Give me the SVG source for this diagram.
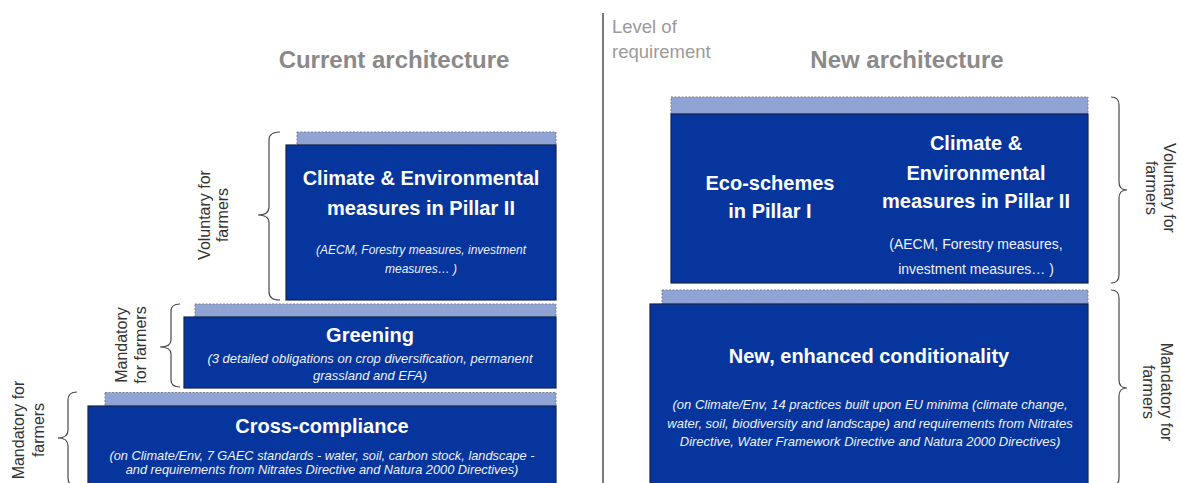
<svg xmlns="http://www.w3.org/2000/svg" width="1181" height="483" viewBox="0 0 1181 483">
<style>
.bg{fill:#ffffff}
.band{fill:#8fa4d4;stroke:#7a7f8c;stroke-width:1;stroke-dasharray:2 1.5}
.box{fill:#06359e;stroke:#15244d;stroke-width:1.2}
.ttl{font-family:"Liberation Sans",Arial,sans-serif;font-weight:bold;font-size:24px;fill:#8a8a8a;text-anchor:middle}
.lvl{font-family:"Liberation Sans",Arial,sans-serif;font-size:18.5px;fill:#9a9a9a}
.hd{font-family:"Liberation Sans",Arial,sans-serif;font-weight:bold;font-size:20px;fill:#ffffff;text-anchor:middle}
.sub{font-family:"Liberation Sans",Arial,sans-serif;font-style:italic;font-size:12.8px;fill:#eef1fa;text-anchor:middle}
.subr{font-family:"Liberation Sans",Arial,sans-serif;font-size:14px;fill:#eef1fa;text-anchor:middle}
.lab{font-family:"Liberation Sans",Arial,sans-serif;font-size:16px;fill:#333333;text-anchor:middle}
.brace{fill:none;stroke:#4a4a4a;stroke-width:1.2}
</style>
<rect class="bg" x="0" y="0" width="1181" height="483"/>

<text class="ttl" x="394" y="68">Current architecture</text>
<text class="ttl" x="907" y="68">New architecture</text>

<g id="divider">
<line x1="603" y1="13" x2="603" y2="483" stroke="#7a7a7a" stroke-width="2"/>
<text class="lvl" x="612" y="33">Level of</text>
<text class="lvl" x="612" y="58">requirement</text>
</g>

<g id="cross-compliance">
<rect class="band" x="105" y="392.5" width="451" height="14"/>
<rect class="box" x="88" y="406" width="468" height="80"/>
<text class="hd" x="322" y="433">Cross-compliance</text>
<text class="sub" x="322" y="460">(on Climate/Env, 7 GAEC standards - water, soil, carbon stock, landscape -</text>
<text class="sub" x="322" y="474">and requirements from Nitrates Directive and Natura 2000 Directives)</text>
</g>

<g id="greening">
<rect class="band" x="195" y="304" width="361" height="13"/>
<rect class="box" x="184" y="317" width="372" height="71"/>
<text class="hd" x="370" y="342">Greening</text>
<text class="sub" x="370" y="363" style="font-size:13px">(3 detailed obligations on crop diversification, permanent</text>
<text class="sub" x="370" y="380" style="font-size:13px">grassland and EFA)</text>
</g>

<g id="climate-pillar2-current">
<rect class="band" x="297" y="132" width="259" height="13"/>
<rect class="box" x="286" y="145" width="270" height="155"/>
<text class="hd" x="421" y="185">Climate &amp; Environmental</text>
<text class="hd" x="421" y="215">measures in Pillar II</text>
<text class="sub" x="421" y="254" style="font-size:12px">(AECM, Forestry measures, investment</text>
<text class="sub" x="421" y="273" style="font-size:12px">measures… )</text>
</g>

<g id="new-voluntary">
<rect class="band" x="671" y="97" width="417" height="17"/>
<rect class="box" x="671" y="114" width="417" height="169"/>
<text class="hd" x="770" y="190">Eco-schemes</text>
<text class="hd" x="770" y="218">in Pillar I</text>
<text class="hd" x="976" y="150">Climate &amp;</text>
<text class="hd" x="976" y="180">Environmental</text>
<text class="hd" x="976" y="208">measures in Pillar II</text>
<text class="subr" x="976" y="249">(AECM, Forestry measures,</text>
<text class="subr" x="976" y="274">investment measures… )</text>
</g>

<g id="new-conditionality">
<rect class="band" x="662" y="290" width="426" height="14"/>
<rect class="box" x="650" y="304" width="438" height="182"/>
<text class="hd" x="869" y="363">New, enhanced conditionality</text>
<text class="sub" x="870" y="409" style="font-size:13px">(on Climate/Env, 14 practices built upon EU minima (climate change,</text>
<text class="sub" x="870" y="428" style="font-size:13px">water, soil, biodiversity and landscape) and requirements from Nitrates</text>
<text class="sub" x="870" y="446" style="font-size:13px">Directive, Water Framework Directive and Natura 2000 Directives)</text>
</g>

<g id="connectors">
<path class="brace" d="M280,132 Q269,132 269,140 L269,207 Q269,215 258,215 Q269,215 269,223 L269,292 Q269,300 280,300"/>
<path class="brace" d="M180,304 Q171,304 171,311 L171,340 Q171,347 160,347 Q171,347 171,354 L171,380 Q171,387 180,387"/>
<path class="brace" d="M77,392 Q68,392 68,400 L68,430 Q68,438 58,438 Q68,438 68,446 L68,478 Q68,486 77,486"/>
<path class="brace" d="M1111,97 Q1119,97 1119,105 L1119,182 Q1119,190 1127,190 Q1119,190 1119,198 L1119,275 Q1119,283 1111,283"/>
<path class="brace" d="M1111,290 Q1119,290 1119,298 L1119,380 Q1119,388 1127,388 Q1119,388 1119,396 L1119,478 Q1119,486 1111,486"/>
</g>

<g id="labels">
<text class="lab" transform="translate(210,215) rotate(-90)"><tspan x="0" y="0">Voluntary for</tspan><tspan x="0" y="18">farmers</tspan></text>
<text class="lab" transform="translate(127,345) rotate(-90)"><tspan x="0" y="0">Mandatory</tspan><tspan x="0" y="19">for farmers</tspan></text>
<text class="lab" transform="translate(24,430) rotate(-90)"><tspan x="0" y="0">Mandatory for</tspan><tspan x="0" y="20">farmers</tspan></text>
<text class="lab" transform="translate(1164,188) rotate(90)"><tspan x="0" y="0">Voluntary for</tspan><tspan x="0" y="18">farmers</tspan></text>
<text class="lab" transform="translate(1161,392) rotate(90)"><tspan x="0" y="0">Mandatory for</tspan><tspan x="0" y="18">farmers</tspan></text>
</g>
</svg>
